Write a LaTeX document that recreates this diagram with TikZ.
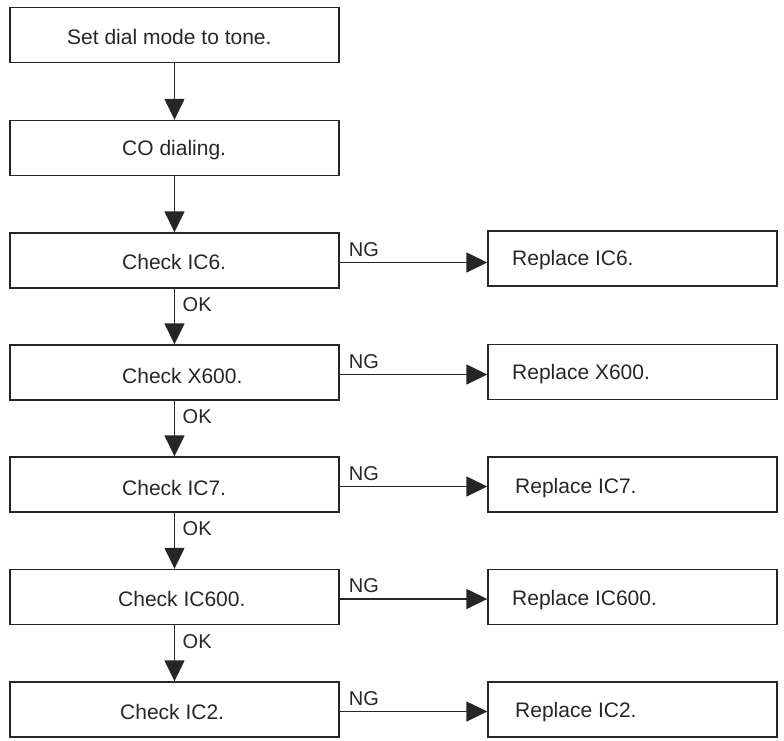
\documentclass[tikz,border=0pt]{standalone}
\usepackage{fontspec}
\setmainfont{Liberation Sans}
\usetikzlibrary{arrows.meta}
\begin{document}
\begin{tikzpicture}[x=1pt,y=-1pt,
  box/.style={draw=black!85, line width=1.4pt, minimum height=55pt, inner sep=0pt},
  lbox/.style={box, minimum width=329pt},
  rbox/.style={box, minimum width=289pt},
  txt/.style={font=\fontsize{21}{25}\selectfont, anchor=west, inner sep=0pt, text=black!85},
  lab/.style={font=\fontsize{20}{24}\selectfont, anchor=west, inner sep=0pt, text=black!85},
  arr/.style={draw=black!85, line width=1.5pt, -{Triangle[width=20pt,length=21pt]}}]
\useasboundingbox (0,0) rectangle (784,740);
% left column
\node[lbox] (b1) at (174.5,35) {};
\node[lbox] (b2) at (174.5,148) {};
\node[lbox] (b3) at (174.5,260.5) {};
\node[lbox] (b4) at (174.5,372.5) {};
\node[lbox] (b5) at (174.5,484.5) {};
\node[lbox] (b6) at (174.5,597) {};
\node[lbox] (b7) at (174.5,709.5) {};
\node[txt] (t1) at (67,37) {Set dial mode to tone.};
\node[txt] (t2) at (122,150) {CO dialing.};
\node[txt] (t3) at (122,262) {Check IC6.};
\node[txt] (t4) at (122,376) {Check X600.};
\node[txt] (t5) at (122,488) {Check IC7.};
\node[txt] (t6) at (118,599) {Check IC600.};
\node[txt] (t7) at (120,712) {Check IC2.};
% right column
\node[rbox] (r3) at (632.5,258.5) {};
\node[rbox] (r4) at (632.5,372) {};
\node[rbox] (r5) at (632.5,484.5) {};
\node[rbox] (r6) at (632.5,597) {};
\node[rbox] (r7) at (632.5,709.5) {};
\node[txt] (s3) at (512,260) {Replace IC6.};
\node[txt] (s4) at (512,374) {Replace X600.};
\node[txt] (s5) at (515,488) {Replace IC7.};
\node[txt] (s6) at (512,600) {Replace IC600.};
\node[txt] (s7) at (515,712) {Replace IC2.};
% vertical arrows
\draw[arr] (b1) -- (b2);
\draw[arr] (b2) -- (b3);
\draw[arr] (b3) -- (b4);
\draw[arr] (b4) -- (b5);
\draw[arr] (b5) -- (b6);
\draw[arr] (b6) -- (b7);
% OK labels
\foreach \b in {b3,b4,b5,b6}{
  \node[lab] at ([xshift=8pt,yshift=-16pt]\b.south) {OK};
}
% NG arrows
\foreach \b/\r in {b3/r3,b4/r4,b5/r5,b6/r6,b7/r7}{
  \draw[arr] ([yshift=-2pt]\b.east) -- ([yshift=-2pt]\b.east -| \r.west);
  \node[lab] at ([xshift=9pt,yshift=11pt]\b.east) {NG};
}
\end{tikzpicture}
\end{document}
